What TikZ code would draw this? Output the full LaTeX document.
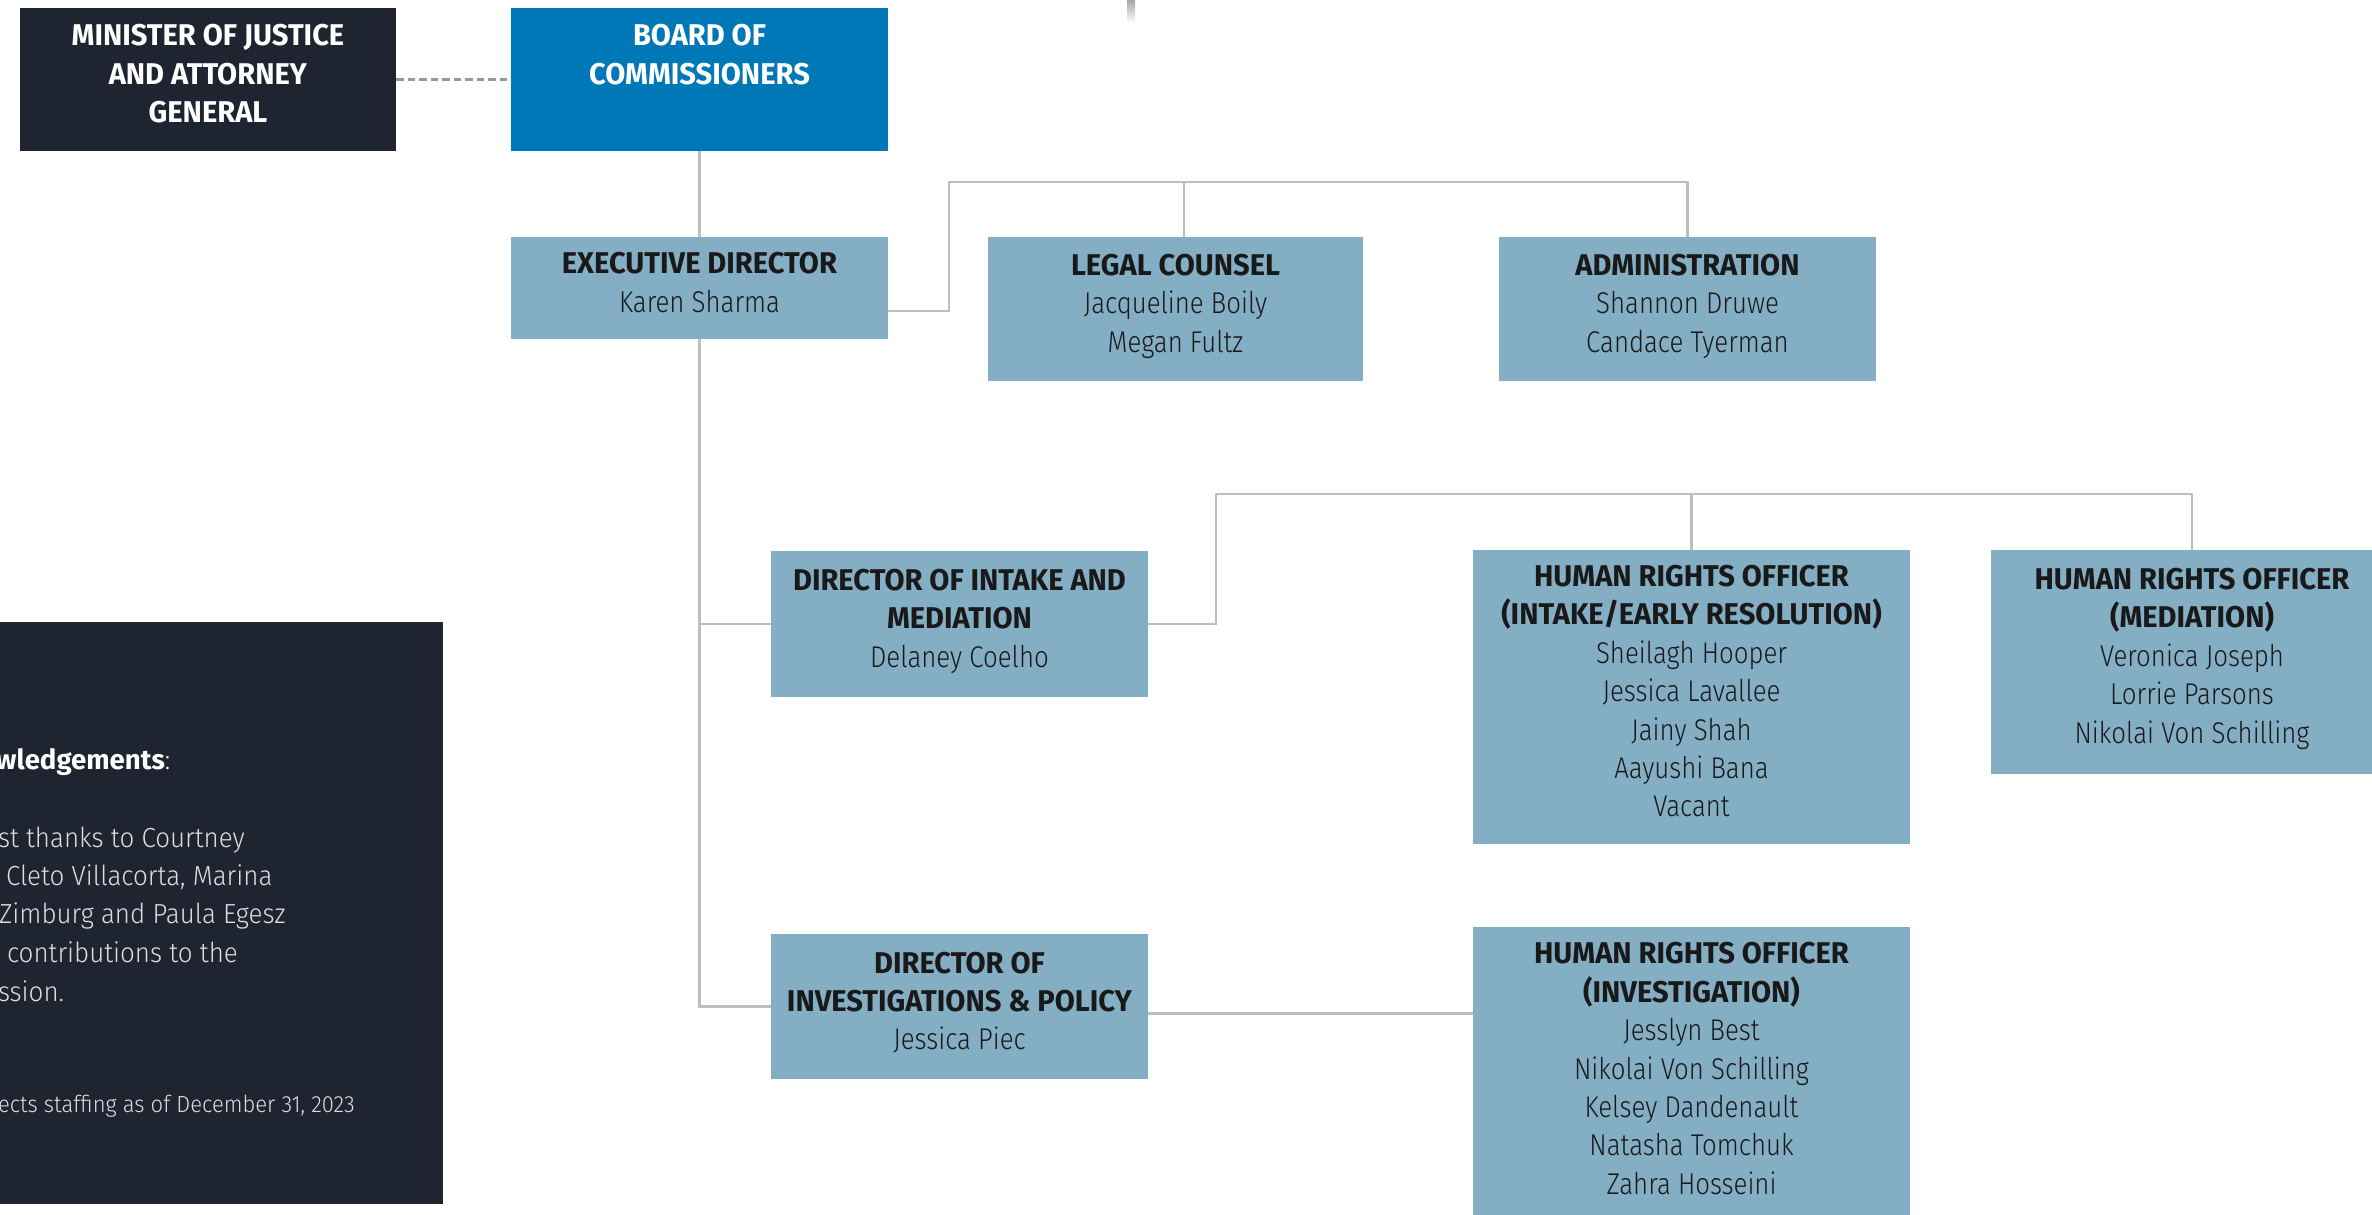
\documentclass[tikz,border=0pt]{standalone}
\usepackage{fontspec}
\setmainfont{Fira Sans}[UprightFont=* Light, BoldFont=* Bold, UprightFeatures={FakeStretch=0.86}, BoldFeatures={FakeStretch=0.97}]
\newfontfamily\ackfont{Fira Sans}[UprightFont=* Light, BoldFont=* Bold, UprightFeatures={FakeStretch=0.94}, BoldFeatures={FakeStretch=1.0}]
\usepackage{xcolor}
\usepackage{tikz}
\usetikzlibrary{positioning,calc}

\definecolor{navy}{HTML}{1E2530}
\definecolor{boardblue}{HTML}{0077B6}
\definecolor{boxblue}{HTML}{83AEC4}
\definecolor{linegray}{HTML}{BEBEBE}
\definecolor{ackgray}{HTML}{DCDEE0}

\begin{document}
\begin{tikzpicture}[x=0.5pt, y=-0.5pt, line width=1.2pt, every node/.style={align=center,inner sep=0pt,outer sep=0pt,font=\fontsize{15}{19.2}\selectfont,execute at end node=\strut}, unit/.style={fill=boxblue,text=black!90}, dark/.style={fill=navy,text=white}, link/.style={draw=linegray}]
  % Canvas fixed to the reference size, one unit = one pixel.
  \useasboundingbox (0,0) rectangle (2372,1215);
  \clip (0,0) rectangle (2372,1215);

  % Top row
  
\node (minister) at (208,79.5) [dark, minimum width=188pt, minimum height=71.5pt] {\textbf{MINISTER OF JUSTICE}\\\textbf{AND ATTORNEY}\\\textbf{GENERAL}};
  
\node (board) at (699.5,79.5) [fill=boardblue, text=white, minimum width=188.5pt, minimum height=71.5pt] {\textbf{BOARD OF}\\\textbf{COMMISSIONERS}\\~};

  % Executive level
  
\node (exec) at (699.5,288) [unit, minimum width=188.5pt, minimum height=51pt] {\textbf{EXECUTIVE DIRECTOR}\\Karen Sharma};
  
\node (legal) at (1175.5,309) [unit, minimum width=187.5pt, minimum height=72pt] {\textbf{LEGAL COUNSEL}\\Jacqueline Boily\\Megan Fultz};
  
\node (admin) at (1687.5,309) [unit, minimum width=188.5pt, minimum height=72pt] {\textbf{ADMINISTRATION}\\Shannon Druwe\\Candace Tyerman};

  % Directors
  
\node (intakedir) at (959.5,624) [unit, minimum width=188.5pt, minimum height=73pt] {\textbf{DIRECTOR OF INTAKE AND}\\\textbf{MEDIATION}\\Delaney Coelho};
  
\node (invdir) at (959.5,1006.5) [unit, minimum width=188.5pt, minimum height=72.5pt] {\textbf{DIRECTOR OF}\\\textbf{INVESTIGATIONS \& POLICY}\\Jessica Piec};

  % Officers
  
\node (hrointake) at (1691.5,696.75) [unit, minimum width=218.5pt, minimum height=147.25pt] {\textbf{HUMAN RIGHTS OFFICER}\\\textbf{(INTAKE/EARLY RESOLUTION)}\\Sheilagh Hooper\\Jessica Lavallee\\Jainy Shah\\Aayushi Bana\\Vacant};
  
\node (hromed) at (2192,661.5) [unit, minimum width=201pt, minimum height=112pt] {\textbf{HUMAN RIGHTS OFFICER}\\\textbf{(MEDIATION)}\\Veronica Joseph\\Lorrie Parsons\\Nikolai Von Schilling};
  
\node (hroinv) at (1691.5,1074.25) [unit, minimum width=218.5pt, minimum height=147.25pt] {\textbf{HUMAN RIGHTS OFFICER}\\\textbf{(INVESTIGATION)}\\Jesslyn Best\\Nikolai Von Schilling\\Kelsey Dandenault\\Natasha Tomchuk\\Zahra Hosseini};

  % Reporting lines
  \draw[draw=black!40, line width=1.4pt, dash pattern=on 3.75pt off 2pt] (minister.east) -- (board.west);
  \draw[link] (board.south) -- (exec.north);
  \coordinate (rail1) at (949,182);
  \draw[link] ([yshift=-11.5pt]exec.east) -| (rail1) -| (admin.north);
  \draw[link] ([xshift=4.25pt]legal.north) -- ([xshift=4.25pt]legal.north |- rail1);
  \draw[link] (exec.south) |- (intakedir.west);
  \draw[link] (exec.south) |- (invdir.west);
  \coordinate (rail2) at (1216,494);
  \draw[link] (intakedir.east) -| (rail2) -| (hromed.north);
  \draw[link] (hrointake.north) -- (hrointake.north |- rail2);
  \draw[link] ([yshift=-3.5pt]invdir.east) -- ([yshift=-3.5pt]invdir.east -| hroinv.west);

  % Line coming in from above the page
  \shade[top color=black!35, bottom color=white] (1127,0) rectangle (1135,23);

  % Acknowledgement panel, cut by the left edge
  
\node (ackbox) at (171.5,913) [dark, minimum width=271.5pt, minimum height=291pt] {};
  \node (acktitle) at (-4,769) [anchor=base west, text=white, font=\ackfont\fontsize{13.8}{19.25}\selectfont] {\textbf{wledgements}:};
  \node (ackline1) at (-2,847) [anchor=base west, text=ackgray, font=\ackfont\fontsize{13.8}{19.25}\selectfont] {st thanks to Courtney};
  \node (ackline2) at (6,885) [anchor=base west, text=ackgray, font=\ackfont\fontsize{13.8}{19.25}\selectfont] {Cleto Villacorta, Marina};
  \node (ackline3) at (-1,923) [anchor=base west, text=ackgray, font=\ackfont\fontsize{13.8}{19.25}\selectfont] {Zimburg and Paula Egesz};
  \node (ackline4) at (7,962) [anchor=base west, text=ackgray, font=\ackfont\fontsize{13.8}{19.25}\selectfont] {contributions to the};
  \node (ackline5) at (-2,1001) [anchor=base west, text=ackgray, font=\ackfont\fontsize{13.8}{19.25}\selectfont] {ssion.};
  \node (acknote) at (-2,1112) [anchor=base west, text=ackgray, font=\ackfont\fontsize{11.7}{14}\selectfont] {ects staffing as of December 31, 2023};
\end{tikzpicture}
\end{document}
